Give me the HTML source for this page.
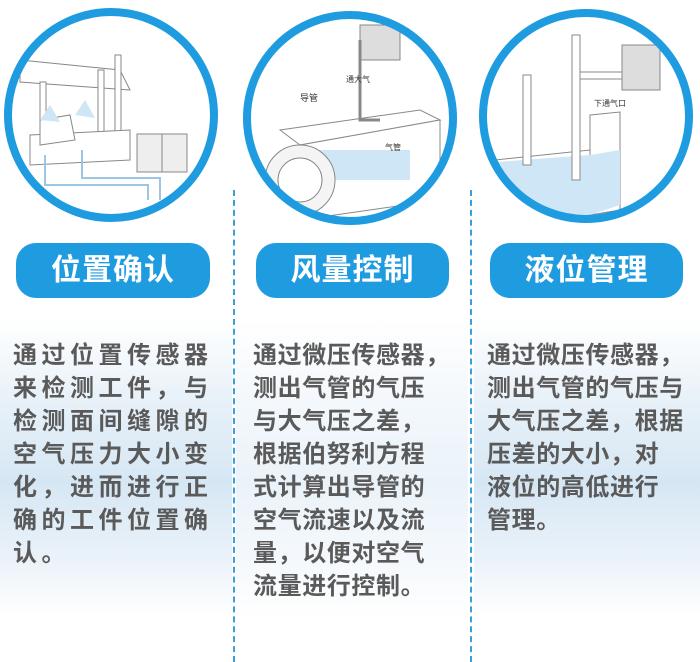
<!DOCTYPE html>
<html><head><meta charset="utf-8"><style>
body{margin:0;width:700px;height:662px;background:#fff;position:relative;overflow:hidden;font-family:"Liberation Sans","Noto Sans CJK SC",sans-serif}
.bg{position:absolute;top:318px;height:300px;background:linear-gradient(180deg,#fff 0%,#e6f0f8 30%,#d6e7f4 55%,#eaf2f9 80%,#fff 100%)}
.pill{position:absolute;top:243px;height:55px;border-radius:20px;background:#1f9be0;color:#fff;font-size:30px;font-weight:bold;text-align:center;line-height:55px;letter-spacing:1px}
.t{position:absolute;top:339px;color:#5a5a5a;font-size:24px;line-height:33px;font-weight:bold}
.d{position:absolute;top:190px;width:0;height:472px;border-left:2px dashed #3aa0dc}
</style></head><body>
<div class="bg" style="left:0;width:232px"></div>
<div class="bg" style="left:236px;width:232px;opacity:.5"></div>
<div class="bg" style="left:474px;width:226px"></div>
<div class="d" style="left:233px"></div>
<div class="d" style="left:470px"></div>
<svg width="700" height="240" style="position:absolute;left:0;top:0">
<defs><clipPath id="c1"><circle cx="111" cy="115" r="100"/></clipPath><clipPath id="c2"><circle cx="350" cy="118" r="100"/></clipPath><clipPath id="c3"><circle cx="586" cy="116" r="100"/></clipPath></defs>
<g clip-path="url(#c1)" fill="#fff" stroke="#888" stroke-width="1">
<polygon points="20,60 120,70 130,90 20,82"/><rect x="40" y="82" width="6" height="50"/><rect x="98" y="70" width="6" height="90"/><rect x="115" y="55" width="6" height="80"/>
<polygon points="30,135 130,130 130,160 30,165"/><polygon points="40,120 70,115 75,140 40,145" />
<path d="M45,155 V185 H148 V200" stroke="#9cc6e4" stroke-width="2" fill="none"/><path d="M82,150 V178 H160 V200" stroke="#9cc6e4" stroke-width="2" fill="none"/>
<rect x="137" y="134" width="25" height="38" fill="#eee"/><rect x="162" y="134" width="25" height="38" fill="#eee"/>
<polygon points="40,120 50,105 60,122" fill="#cfe6f6" stroke="none"/><polygon points="75,115 85,100 95,118" fill="#cfe6f6" stroke="none"/>
</g>
<g clip-path="url(#c2)" fill="#fff" stroke="#888">
<polygon points="280,130 420,110 440,120 300,145"/><polygon points="300,145 440,120 440,200 300,220"/>
<rect x="320" y="150" width="90" height="30" fill="#cfe6f6" stroke="none"/>
<circle cx="300" cy="180" r="35" fill="#f4f4f4"/><circle cx="300" cy="180" r="22"/>
<rect x="360" y="25" width="40" height="35" fill="#ddd"/><path d="M360,40 V120 H380" fill="none" stroke-width="3"/>
<text x="300" y="101" font-size="9" fill="#333" stroke="none">导管</text><text x="346" y="82" font-size="8" fill="#333" stroke="none">通大气</text><text x="385" y="150" font-size="8" fill="#333" stroke="none">气管</text>
</g>
<g clip-path="url(#c3)" fill="#fff" stroke="#888">
<polygon points="495,160 590,150 590,210 495,220"/><polygon points="590,115 620,112 620,210 590,215"/>
<polygon points="497,162 590,155 620,150 620,205 590,215 497,210" fill="#cfe6f6" stroke="none"/>
<rect x="523" y="75" width="8" height="90"/><rect x="572" y="35" width="8" height="145"/><rect x="580" y="72" width="45" height="7"/>
<rect x="622" y="45" width="38" height="45" fill="#ddd"/>
<text x="594" y="106" font-size="8" fill="#333" stroke="none">下通气口</text>
</g>
<circle cx="111" cy="115" r="103" fill="none" stroke="#1f9be0" stroke-width="8"/>
<circle cx="350" cy="118" r="103" fill="none" stroke="#1f9be0" stroke-width="8"/>
<circle cx="586" cy="116" r="103" fill="none" stroke="#1f9be0" stroke-width="8"/>
</svg>
<div class="pill" style="left:16px;width:194px">位置确认</div>
<div class="pill" style="left:256px;width:193px">风量控制</div>
<div class="pill" style="left:490px;width:193px">液位管理</div>
<div class="t" style="left:13px;width:210px;letter-spacing:4.5px">通过位置传感器<br>来检测工件，与<br>检测面间缝隙的<br>空气压力大小变<br>化，进而进行正<br>确的工件位置确<br>认。</div>
<div class="t" style="left:253px;width:215px;letter-spacing:0.6px">通过微压传感器，<br>测出气管的气压<br>与大气压之差，<br>根据伯努利方程<br>式计算出导管的<br>空气流速以及流<br>量，以便对空气<br>流量进行控制。</div>
<div class="t" style="left:487px;width:210px;letter-spacing:0.6px">通过微压传感器，<br>测出气管的气压与<br>大气压之差，根据<br>压差的大小，对<br>液位的高低进行<br>管理。</div>
</body></html>
